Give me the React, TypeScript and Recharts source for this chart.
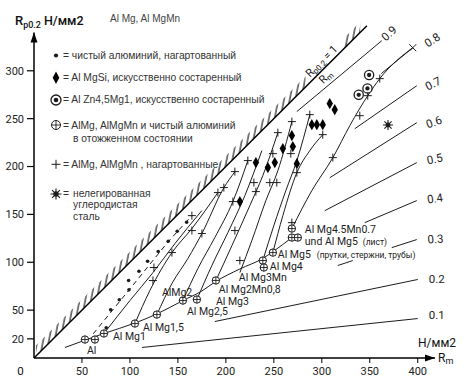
import React from "react";
import { ComposedChart, XAxis, YAxis, Line, Scatter, Area, Customized } from "recharts";

type P = { x: number; y: number };

// ---------- axes ----------
const xTicks = [50, 100, 150, 200, 250, 300, 350, 400];
const yTicks = [20, 50, 100, 150, 200, 250, 300];
const originLabel = "0";
const yAxisLine: P[] = [{ x: 0, y: 0 }, { x: 0, y: 340 }];
const yArrow: P[] = [{ x: 0, y: 340 }];
const xArrow: P[] = [{ x: 418, y: 0 }];

// ---------- Rp0.2/Rm = 1 line and its hatching ----------
const unityLine: P[] = [{ x: 0, y: 0 }, { x: 347, y: 347 }];
const hatchLow = [{ x: 2, y: [2, 13] }, { x: 283, y: [283, 294] }];
const hatchHigh = [{ x: 323, y: [323, 334] }, { x: 340, y: [340, 351] }];

// ---------- ratio lines Rp0.2/Rm ----------
const ratio09: P[] = [{ x: 274, y: 257.4 }, { x: 362.5, y: 331.4 }];
const ratio08: P[] = [{ x: 362, y: 297 }, { x: 394.8, y: 324.1 }];
const ratio07: P[] = [{ x: 334.4, y: 239.5 }, { x: 399, y: 284.4 }];
const ratio06: P[] = [{ x: 308.3, y: 188.3 }, { x: 399, y: 245.8 }];
const ratio05: P[] = [{ x: 303.1, y: 153.9 }, { x: 399, y: 204.1 }];
const ratio04: P[] = [{ x: 344.8, y: 141.4 }, { x: 399, y: 164.4 }];
const ratio03a: P[] = [{ x: 316.7, y: 96.6 }, { x: 332.3, y: 101.8 }];
const ratio03b: P[] = [{ x: 372.9, y: 115.3 }, { x: 399, y: 123.7 }];
const ratio02: P[] = [{ x: 188.5, y: 38.1 }, { x: 400, y: 82 }];
const ratio01: P[] = [{ x: 112.5, y: 11 }, { x: 400, y: 41.2 }];
const ratioLines = [ratio09, ratio08, ratio07, ratio06, ratio05, ratio04, ratio03a, ratio03b, ratio02, ratio01];

const ratioLabels = [
  { x: 366.7, y: 330.4, text: "0.9", angle: -42 },
  { x: 410.4, y: 324.1, text: "0.8", angle: -33 },
  { x: 410.4, y: 279.2, text: "0.7", angle: -27 },
  { x: 410.4, y: 239.6, text: "0.6", angle: -20 },
  { x: 410.4, y: 202, text: "0.5", angle: -12 },
  { x: 410.4, y: 161.3, text: "0.4", angle: -8 },
  { x: 410.4, y: 119.5, text: "0.3", angle: -4 },
  { x: 411.5, y: 78.8, text: "0.2", angle: 0 },
  { x: 411.5, y: 41.2, text: "0.1", angle: 0 },
];

// ---------- annealed line and hardening curves ----------
const annealedLine: P[] = [
  { x: 32.3, y: 11 }, { x: 72.9, y: 25.6 }, { x: 105.2, y: 36.5 }, { x: 128.1, y: 46 },
  { x: 155.2, y: 60 }, { x: 175, y: 70 }, { x: 189.6, y: 80 }, { x: 214.6, y: 93 },
  { x: 238.5, y: 104 }, { x: 249, y: 111 }, { x: 268.8, y: 125.8 },
];
const alHardLine: P[] = [{ x: 61.8, y: 25.3 }, { x: 99, y: 71 }, { x: 139.9, y: 121.5 }, { x: 164.6, y: 148.7 }];
const curveMg1: P[] = [{ x: 72.9, y: 25.6 }, { x: 100, y: 60 }, { x: 124, y: 89.2 }, { x: 146.9, y: 119.5 }, { x: 175, y: 154 }];
const curveMg15: P[] = [{ x: 105.2, y: 36 }, { x: 120.8, y: 70.5 }, { x: 143.8, y: 110.1 }, { x: 164.6, y: 135.2 }, { x: 191.7, y: 172.8 }];
const curveMg2: P[] = [{ x: 128.1, y: 45.4 }, { x: 143.8, y: 77.8 }, { x: 160.4, y: 103.9 }, { x: 175, y: 130 }, { x: 197.9, y: 177.8 }, { x: 209.4, y: 194.5 }];
const curveMg25: P[] = [{ x: 155.2, y: 60 }, { x: 170.8, y: 93.4 }, { x: 188.5, y: 125.8 }, { x: 207.3, y: 163.4 }, { x: 222.9, y: 206.2 }];
const curveMg3: P[] = [{ x: 169.8, y: 61 }, { x: 185.4, y: 96.6 }, { x: 202.1, y: 131 }, { x: 219.8, y: 169.6 }, { x: 237.5, y: 216.6 }];
const curveMg2Mn: P[] = [{ x: 189.6, y: 80.9 }, { x: 206.3, y: 117.4 }, { x: 225, y: 159.2 }, { x: 238.5, y: 190.5 }, { x: 254.2, y: 235.4 }];
const curveMg3Mn: P[] = [{ x: 214.6, y: 89.2 }, { x: 227.1, y: 122.7 }, { x: 241.7, y: 164.4 }, { x: 254.2, y: 195.7 }, { x: 268.8, y: 246.9 }];
const curveMg4: P[] = [{ x: 238.5, y: 101.8 }, { x: 250, y: 138.3 }, { x: 262.5, y: 174.8 }, { x: 274, y: 206.2 }, { x: 287.5, y: 254.2 }];
const curveMg5: P[] = [{ x: 249, y: 110.1 }, { x: 259.4, y: 148.7 }, { x: 274, y: 193.6 }, { x: 287.5, y: 216.6 }, { x: 301, y: 233.3 }];
const curveMg45Mn: P[] = [{ x: 268.8, y: 135.2 }, { x: 289.6, y: 174.8 }, { x: 311.5, y: 209.2 }, { x: 329.2, y: 242.7 }, { x: 347.9, y: 274 }, { x: 360.4, y: 291.8 }, { x: 394.8, y: 324.1 }];
const fanCurves = [curveMg1, curveMg15, curveMg2, curveMg25, curveMg3, curveMg2Mn, curveMg3Mn, curveMg4, curveMg5, curveMg45Mn];

// ---------- point series ----------
const alDots: P[] = [
  { x: 75.3, y: 31.5 }, { x: 79.9, y: 50.3 }, { x: 88.9, y: 60.8 }, { x: 99, y: 71.2 }, { x: 98.6, y: 80.9 },
  { x: 109.4, y: 90.6 }, { x: 118.4, y: 101 }, { x: 129.5, y: 111.2 }, { x: 139.9, y: 121.9 },
  { x: 149.3, y: 132.4 }, { x: 159.1, y: 141.8 },
];
const annealedPts: P[] = [
  { x: 53.1, y: 19.3 }, { x: 63.5, y: 19.3 }, { x: 72.9, y: 25.6 }, { x: 105.2, y: 36 }, { x: 128.1, y: 45.4 },
  { x: 155.2, y: 60 }, { x: 169.8, y: 61.1 }, { x: 189.6, y: 81 }, { x: 238.5, y: 101.8 }, { x: 239.6, y: 94.5 },
  { x: 249, y: 110.1 }, { x: 268.8, y: 135.2 }, { x: 268.8, y: 125.8 }, { x: 275, y: 125.8 },
];
const hardenedPts: P[] = [
  { x: 124, y: 80.9 }, { x: 125, y: 94.5 }, { x: 143.8, y: 110.1 }, { x: 164.6, y: 148.7 }, { x: 164.6, y: 133.1 },
  { x: 175, y: 130 }, { x: 191.7, y: 172.8 }, { x: 197.9, y: 178 }, { x: 209.4, y: 194.7 }, { x: 207.3, y: 163.4 },
  { x: 209.4, y: 133.1 }, { x: 214.6, y: 101.8 }, { x: 222.9, y: 206.2 }, { x: 229.2, y: 183.2 }, { x: 231.3, y: 173.8 },
  { x: 245.8, y: 183.2 }, { x: 253.1, y: 183.2 }, { x: 249, y: 213.5 }, { x: 254.2, y: 235.4 }, { x: 267.7, y: 213.5 },
  { x: 268.8, y: 246.9 }, { x: 274, y: 193.6 }, { x: 268.8, y: 141.4 }, { x: 287.5, y: 254.2 }, { x: 301, y: 233.3 },
  { x: 311.5, y: 209.3 }, { x: 339.6, y: 253.1 }, { x: 347.9, y: 274 }, { x: 360.4, y: 291.8 },
];
const crossPts: P[] = [{ x: 394.8, y: 324.1 }];
const mgSiPts: P[] = [
  { x: 214.6, y: 163.4 }, { x: 231.3, y: 204.1 }, { x: 243.8, y: 198.9 }, { x: 251, y: 204.1 }, { x: 259.4, y: 218.7 },
  { x: 268.8, y: 232.3 }, { x: 269.8, y: 220.8 }, { x: 274, y: 203 }, { x: 289.6, y: 243.7 }, { x: 294.8, y: 243.7 },
  { x: 301, y: 243.7 }, { x: 308.3, y: 265.7 }, { x: 313.5, y: 259.4 },
];
const znMgPts: P[] = [{ x: 349.3, y: 295.6 }, { x: 347.6, y: 281.6 }, { x: 338.5, y: 274.9 }];
const steelPts: P[] = [{ x: 369, y: 243.4 }];

// ---------- labels ----------
const materialLabels = [
  { x: 55.2, y: 3.7, text: "Al" },
  { x: 82.3, y: 18.3, text: "Al Mg1" },
  { x: 113.5, y: 28.7, text: "Al Mg1,5" },
  { x: 133.3, y: 65.2, text: "AlMg2" },
  { x: 159.4, y: 44.4, text: "Al Mg2,5" },
  { x: 189.6, y: 55.8, text: "Al Mg3" },
  { x: 192.7, y: 67.8, text: "Al Mg2Mn0,8" },
  { x: 213.5, y: 80.2, text: "Al Mg3Mn" },
  { x: 245.8, y: 91.6, text: "Al Mg4" },
  { x: 254.2, y: 104.9, text: "Al Mg5" },
  { x: 282.3, y: 131, text: "Al Mg4.5Mn0.7" },
  { x: 282.3, y: 118.5, text: "und Al Mg5" },
];
const noteLabels = [
  { x: 294.8, y: 104.9, text: "(прутки, стержни, трубы)" },
  { x: 342.7, y: 118.5, text: "(лист)" },
];

const legendRows = [
  { sym: "dot", lines: ["= чистый алюминий, нагартованный"] },
  { sym: "diamond", lines: ["= Al MgSi, искусственно состаренный"] },
  { sym: "odot", lines: ["= Al Zn4,5Mg1, искусственно состаренный"] },
  { sym: "oplus", lines: ["= AlMg, AlMgMn и чистый алюминий", "в отожженном состоянии"] },
  { sym: "plus", lines: ["= AlMg, AlMgMn , нагартованные"] },
  { sym: "star", lines: ["=", "нелегированная", "углеродистая", "сталь"] },
];

// ---------- drawing helpers ----------
const INK = "#1c1c1c";
const NUM_FONT = "Roboto, 'DejaVu Sans', sans-serif";
const TXT_FONT = "'Liberation Sans', Arial, sans-serif";

const drawPlus = (cx: number, cy: number, a: number) => (
  <path d={`M${cx - a},${cy}H${cx + a}M${cx},${cy - a}V${cy + a}`} stroke={INK} strokeWidth={1} fill="none" />
);
const drawCross = (cx: number, cy: number, a: number) => (
  <path d={`M${cx - a},${cy - a}L${cx + a},${cy + a}M${cx - a},${cy + a}L${cx + a},${cy - a}`} stroke={INK} strokeWidth={1} fill="none" />
);
const drawDiamond = (cx: number, cy: number, w: number, h: number) => (
  <path d={`M${cx},${cy - h}L${cx + w},${cy}L${cx},${cy + h}L${cx - w},${cy}Z`} fill="#000" />
);
const drawOplus = (cx: number, cy: number, r: number) => (
  <g>
    <circle cx={cx} cy={cy} r={r} fill="#fff" stroke={INK} strokeWidth={1} />
    <path d={`M${cx - r},${cy}H${cx + r}M${cx},${cy - r}V${cy + r}`} stroke={INK} strokeWidth={0.9} />
  </g>
);
const drawOdot = (cx: number, cy: number, r: number) => (
  <g>
    <circle cx={cx} cy={cy} r={r} fill="#fff" stroke={INK} strokeWidth={1.3} />
    <circle cx={cx} cy={cy} r={r * 0.47} fill={INK} />
  </g>
);
const drawDot = (cx: number, cy: number, r: number) => <circle cx={cx} cy={cy} r={r} fill={INK} />;
const drawStar = (cx: number, cy: number, r: number) => {
  const d = r * 0.72;
  return (
    <g stroke={INK} strokeWidth={1.1}>
      <path d={`M${cx - r},${cy}H${cx + r}M${cx},${cy - r}V${cy + r}M${cx - d},${cy - d}L${cx + d},${cy + d}M${cx - d},${cy + d}L${cx + d},${cy - d}`} />
      <circle cx={cx} cy={cy} r={r * 0.38} fill={INK} />
    </g>
  );
};

const plusShape = (p: any) => drawPlus(p.cx, p.cy, 4);
const crossShape = (p: any) => drawCross(p.cx, p.cy, 3.5);
const diamondShape = (p: any) => drawDiamond(p.cx, p.cy, 3.2, 5.6);
const oplusShape = (p: any) => drawOplus(p.cx, p.cy, 3.7);
const odotShape = (p: any) => drawOdot(p.cx, p.cy, 4.6);
const dotShape = (p: any) => drawDot(p.cx, p.cy, 1.8);
const starShape = (p: any) => drawStar(p.cx, p.cy, 5);
const upArrow = (p: any) => <path d={`M${p.cx},${p.cy}L${p.cx - 3.5},${p.cy + 10}L${p.cx + 3.5},${p.cy + 10}Z`} fill="#000" />;
const rightArrow = (p: any) => <path d={`M${p.cx},${p.cy}L${p.cx - 10},${p.cy - 3.5}L${p.cx - 10},${p.cy + 3.5}Z`} fill="#000" />;

const materialText = (p: any) => (
  <text x={p.cx} y={p.cy} fontSize={10.5} fontFamily={NUM_FONT} fill="#222">{p.payload.text}</text>
);
const noteText = (p: any) => (
  <text x={p.cx} y={p.cy} fontSize={8.5} fontFamily={NUM_FONT} fill="#222">{p.payload.text}</text>
);
const ratioText = (p: any) => (
  <text x={p.cx} y={p.cy} fontSize={11.5} fontFamily={NUM_FONT} fill="#222"
    transform={`rotate(${p.payload.angle} ${p.cx} ${p.cy})`}>{p.payload.text}</text>
);

const YTick = (props: any) => {
  const { y, payload } = props;
  return (
    <g>
      <line x1={27} x2={34} y1={y} y2={y} stroke="#000" strokeWidth={1.2} />
      <text x={24} y={y} dy="0.35em" textAnchor="end" fontSize={11} fontFamily={NUM_FONT} fill="#222">{payload.value}</text>
    </g>
  );
};

const XTick = (props: any) => {
  const { x, payload } = props;
  return (
    <g>
      <line x1={x} x2={x} y1={358} y2={363} stroke="#000" strokeWidth={1} />
      <text x={x} y={375} textAnchor="middle" fontSize={11} fontFamily={NUM_FONT} fill="#222">{payload.value}</text>
    </g>
  );
};

const legendSymbol = (sym: string, cx: number, cy: number) => {
  switch (sym) {
    case "dot": return drawDot(cx, cy, 2.1);
    case "diamond": return drawDiamond(cx, cy, 3.3, 6.3);
    case "odot": return drawOdot(cx, cy, 5);
    case "oplus": return drawOplus(cx, cy, 4.5);
    case "plus": return drawPlus(cx, cy, 4.5);
    default: return drawStar(cx, cy, 5.5);
  }
};

const legendLayout = [
  { sy: 55.5, base: [59] },
  { sy: 77.7, base: [81] },
  { sy: 100, base: [103] },
  { sy: 125, base: [129, 141.5] },
  { sy: 164.3, base: [168] },
  { sy: 194, base: [197, 197, 207.5, 219.5] },
];

const Decorations = () => (
  <g>
    <defs>
      <pattern id="hatch" width={5.6} height={24} patternUnits="userSpaceOnUse" patternTransform="rotate(11)">
        <line x1={1} y1={0} x2={1} y2={24} stroke="#111" strokeWidth={1.1} />
      </pattern>
    </defs>
    {/* origin label */}
    <text x={20.5} y={375} textAnchor="middle" fontSize={11.5} fontFamily={NUM_FONT} fill="#111">{originLabel}</text>
    {/* y-axis title */}
    <text x={15} y={25} fontFamily={NUM_FONT} fill="#111" fontWeight={500}>
      <tspan fontSize={13}>R</tspan>
      <tspan fontSize={9} dy={3}>p0.2</tspan>
      <tspan fontSize={12.5} dy={-3} dx={3}>Н/мм2</tspan>
    </text>
    <text x={110} y={21.5} fontFamily={TXT_FONT} fontSize={10} fill="#444">Al Mg, Al MgMn</text>
    {/* x-axis title */}
    <text x={418} y={347} fontFamily={NUM_FONT} fontSize={12} fill="#111">Н/мм2</text>
    <text x={438} y={362} fontFamily={NUM_FONT} fill="#111">
      <tspan fontSize={12}>R</tspan>
      <tspan fontSize={9} dy={2}>m</tspan>
    </text>
    {/* Rp0.2/Rm = 1 */}
    <g transform="translate(312,80) rotate(-44.9)" fontFamily={NUM_FONT} fill="#111">
      <text x={0} y={-3}>
        <tspan fontSize={11}>R</tspan>
        <tspan fontSize={8} dy={2}>p0.2</tspan>
        <tspan fontSize={11} dy={-2}> = 1</tspan>
      </text>
      <text x={5} y={11}>
        <tspan fontSize={11}>R</tspan>
        <tspan fontSize={8} dy={2}>m</tspan>
      </text>
    </g>
    {/* legend */}
    {legendRows.map((row, i) => {
      const lay = legendLayout[i];
      return (
        <g key={i}>
          {legendSymbol(row.sym, 56, lay.sy)}
          {row.lines.map((t, j) => {
            const x = j === 0 ? 63 : 73;
            return (
              <text key={j} x={x} y={lay.base[j]} fontFamily={TXT_FONT} fontSize={10.3} fill="#333">{t}</text>
            );
          })}
        </g>
      );
    })}
  </g>
);

const lineProps = { dataKey: "y", dot: false, activeDot: false, isAnimationActive: false, stroke: INK, strokeWidth: 1, legendType: "none" as const };

export default function App() {
  return (
    <div style={{ position: "absolute", left: 0, top: 0, width: 474, height: 391 }}>
      <ComposedChart width={474} height={391} margin={{ top: 21, right: 39, bottom: 3, left: 0 }}>
        <XAxis type="number" dataKey="x" domain={[0, 418]} ticks={xTicks} interval={0} height={30}
          axisLine={{ stroke: "#000", strokeWidth: 1.5 }} tickLine={false} tick={<XTick />} />
        <YAxis type="number" dataKey="y" domain={[0, 352]} ticks={yTicks} interval={0} width={34}
          axisLine={false} tickLine={false} tick={<YTick />} />

        <Area data={hatchLow} dataKey="y" type="linear" stroke="none" fill="url(#hatch)" fillOpacity={1} isAnimationActive={false} dot={false} activeDot={false} legendType="none" />
        <Area data={hatchHigh} dataKey="y" type="linear" stroke="none" fill="url(#hatch)" fillOpacity={1} isAnimationActive={false} dot={false} activeDot={false} legendType="none" />

        <Line {...lineProps} data={yAxisLine} type="linear" stroke="#000" strokeWidth={1.5} />
        <Line {...lineProps} data={unityLine} type="linear" stroke="#000" strokeWidth={1.5} />
        {ratioLines.map((d, i) => (
          <Line key={"r" + i} {...lineProps} data={d} type="linear" />
        ))}
        <Line {...lineProps} data={annealedLine} type="monotone" />
        <Line {...lineProps} data={alHardLine} type="linear" strokeDasharray="5 4" />
        {fanCurves.map((d, i) => (
          <Line key={"c" + i} {...lineProps} data={d} type="monotone" />
        ))}

        <Scatter data={alDots} dataKey="y" shape={dotShape} isAnimationActive={false} legendType="none" />
        <Scatter data={hardenedPts} dataKey="y" shape={plusShape} isAnimationActive={false} legendType="none" />
        <Scatter data={crossPts} dataKey="y" shape={crossShape} isAnimationActive={false} legendType="none" />
        <Scatter data={mgSiPts} dataKey="y" shape={diamondShape} isAnimationActive={false} legendType="none" />
        <Scatter data={znMgPts} dataKey="y" shape={odotShape} isAnimationActive={false} legendType="none" />
        <Scatter data={steelPts} dataKey="y" shape={starShape} isAnimationActive={false} legendType="none" />
        <Scatter data={annealedPts} dataKey="y" shape={oplusShape} isAnimationActive={false} legendType="none" />
        <Scatter data={yArrow} dataKey="y" shape={upArrow} isAnimationActive={false} legendType="none" />
        <Scatter data={xArrow} dataKey="y" shape={rightArrow} isAnimationActive={false} legendType="none" />

        <Scatter data={materialLabels} dataKey="y" shape={materialText} isAnimationActive={false} legendType="none" />
        <Scatter data={noteLabels} dataKey="y" shape={noteText} isAnimationActive={false} legendType="none" />
        <Scatter data={ratioLabels} dataKey="y" shape={ratioText} isAnimationActive={false} legendType="none" />

        <Customized component={Decorations} />
      </ComposedChart>
    </div>
  );
}
